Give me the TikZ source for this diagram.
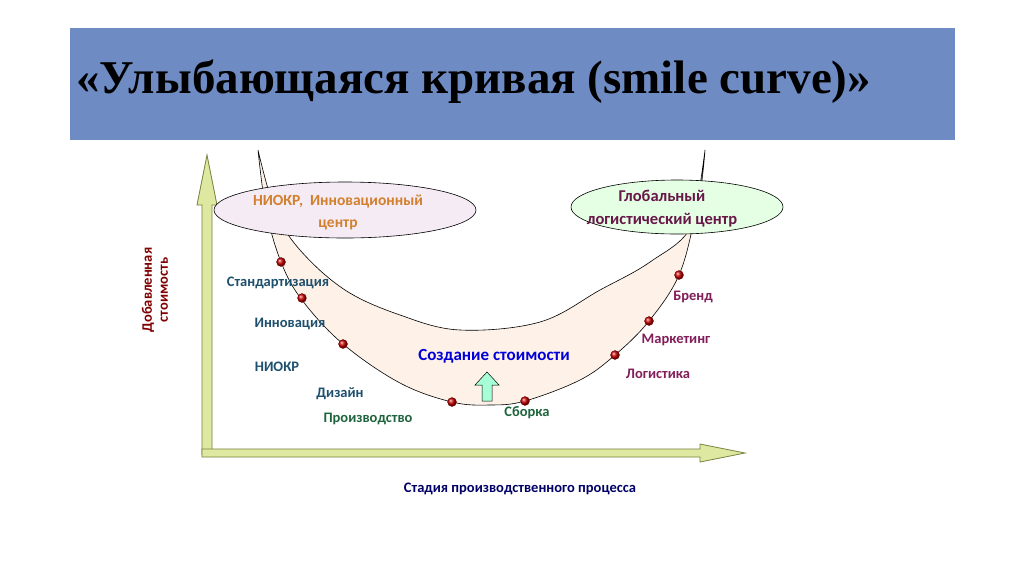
\documentclass[tikz,border=0pt]{standalone}
\usepackage{fontspec}
\usetikzlibrary{shapes.geometric}
\setmainfont{Carlito}
\newfontfamily\titlefont{Liberation Serif}
\begin{document}
\begin{tikzpicture}[x=1pt,y=-1pt,
 lbl/.style={font=\bfseries\fontsize{14.5}{16}\selectfont,inner sep=0pt},
 dot/.style={circle,inner sep=0pt,minimum size=9pt,ball color=red!80!black,draw=red!40!black,line width=0.3pt},
 axis/.style={fill=axfill,draw=axdraw,line width=0.8pt,line join=miter}]
\definecolor{banner}{RGB}{110,140,195}
\definecolor{axfill}{RGB}{222,232,160}
\definecolor{axdraw}{RGB}{120,130,60}
\definecolor{peach}{RGB}{253,241,232}
\definecolor{teal}{RGB}{30,80,110}
\definecolor{grn}{RGB}{30,100,60}
\definecolor{purp}{RGB}{130,30,90}
\useasboundingbox (0,0) rectangle (1024,574);
\fill[white] (0,0) rectangle (1024,574);
\node[fill=banner,minimum width=885pt,minimum height=112pt,inner sep=0pt,anchor=north west] (ban) at (70,28) {};
\node[anchor=west,font=\titlefont\bfseries\fontsize{47}{50}\selectfont,inner sep=0pt] (title) at (76,82) {«Улыбающаяся кривая (smile curve)»};
% crescent
\fill[peach,draw=black,line width=0.6pt] plot[smooth,tension=0.6] coordinates {(258,150)(266,210)(281,262)(302,300)(343,344)(400,383)(452,402)(490,405)(525,401)(580,380)(615,355)(649,321)(679,275)(695,215)(705,150)}
 -- plot[smooth,tension=0.6] coordinates {(705,150)(692,225)(650,262)(600,290)(540,322)(460,330)(400,315)(345,290)(300,250)(275,210)(258,150)} -- cycle;
% axes
\draw[axis] (202,455) -- (202,205) -- (197,205) -- (207,155) -- (217,205) -- (212,205) -- (212,455) -- cycle;
\draw[axis] (202,449) -- (700,449) -- (700,444) -- (745,453) -- (700,462) -- (700,457) -- (202,457) -- cycle;
% ellipses
\node[ellipse,draw=black,fill=violet!8,minimum width=262pt,minimum height=56pt,line width=0.6pt] (e1) at (345,210) {};
\node[ellipse,draw=black,fill=green!10,minimum width=212pt,minimum height=54pt,line width=0.6pt] (e2) at (677,207) {};
\node[lbl,align=center,text=brown!70!orange,font=\bfseries\fontsize{15.5}{22}\selectfont] (t1) at (338,212) {НИОКР,\ \ Инновационный\\центр};
\node[lbl,align=center,text=purp!80!black,font=\bfseries\fontsize{16.5}{23}\selectfont] (t2) at (662,209) {Глобальный\\логистический центр};
% dots
\foreach \n/\p in {d1/{(281,262)},d2/{(302,298)},d3/{(343,344)},d4/{(452,402)},d5/{(525,401)},d6/{(679,275)},d7/{(649,321)},d8/{(615,355)}}
 \node[dot] (\n) at \p {};
% labels
\node[lbl,text=teal] (s1) at (278,283) {Стандартизация};
\node[lbl,text=teal] (s2) at (290,324) {Инновация};
\node[lbl,text=teal] (s3) at (277,367) {НИОКР};
\node[lbl,text=teal] (s4) at (340,394) {Дизайн};
\node[lbl,text=grn] (s5) at (368,419) {Производство};
\node[lbl,text=grn] (s6) at (527,413) {Сборка};
\node[lbl,text=purp] (s7) at (693,297) {Бренд};
\node[lbl,text=purp] (s8) at (676,340) {Маркетинг};
\node[lbl,text=purp] (s9) at (658,374) {Логистика};
\node[lbl,text=blue!85!black,font=\bfseries\fontsize{17}{18}\selectfont] (cs) at (494,356) {Создание стоимости};
\draw[fill=green!45!cyan!35,draw=black,line width=0.5pt] (482,401) -- (482,385) -- (475,385) -- (487,372) -- (499,385) -- (492,385) -- (492,401) -- cycle;
\node[lbl,rotate=90,align=center,text=red!50!black] (yl) at (155,290) {Добавленная\\стоимость};
\node[lbl,text=blue!40!black] (xl) at (520,489) {Стадия производственного процесса};
\end{tikzpicture}
\end{document}
